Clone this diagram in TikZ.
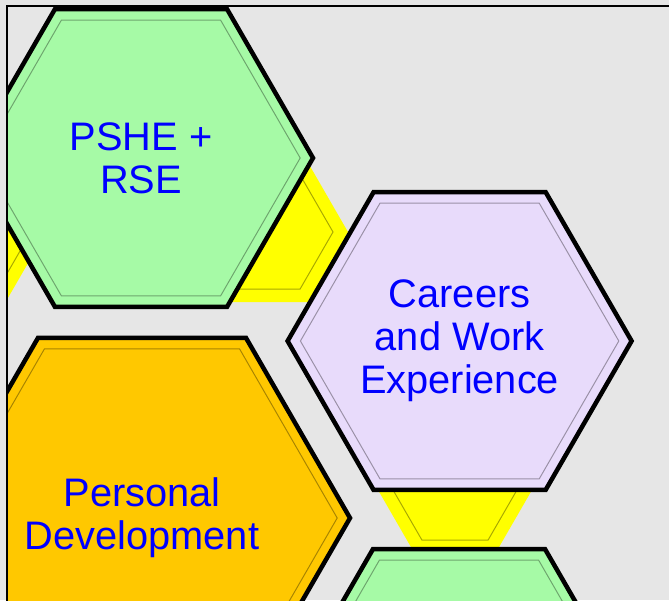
\documentclass[tikz,border=0pt]{standalone}
\usepackage{fontspec}
\setmainfont{Liberation Sans}
\usetikzlibrary{shapes.geometric}

\definecolor{bggray}{RGB}{230,230,230}
\definecolor{hexgreen}{RGB}{166,250,166}
\definecolor{hexlilac}{RGB}{232,219,251}
\definecolor{hexorange}{RGB}{255,200,0}
\definecolor{hexyellow}{RGB}{255,255,0}
\definecolor{textblue}{RGB}{0,0,255}

\begin{document}
\begin{tikzpicture}[
	hexa/.style={regular polygon, regular polygon sides=6, inner sep=0pt, outer sep=0pt},
	tile/.style={hexa, draw=black, line width=3.2pt, minimum size=8.6cm, text=textblue,
		align=center, font=\fontsize{28.3}{30.6}\selectfont},
	link/.style={hexa, fill=hexyellow, minimum size=4.05cm},
	bevel/.style={hexa, draw=#1!55!black, line width=0.7pt, draw opacity=0.75},
	]
	\useasboundingbox (0,0) rectangle (16.725,-15);
	\fill[bggray] (0,0) rectangle (16.725,-15);
	
	\begin{scope}
		\clip (0.175,-0.15) rectangle (17,-15.5);
		
		%yellow links
		\node (Link Left) at (-0.875,-5.8) [link]{};
		\node at (Link Left) [bevel=hexyellow, minimum size=3.3cm]{};
		\node (Link Top) at (6.675,-5.8) [link]{};
		\node at (Link Top) [bevel=hexyellow, minimum size=3.3cm]{};
		\node (Link Bottom) at (11.375,-12.075) [link]{};
		\node at (Link Bottom) [bevel=hexyellow, minimum size=3.3cm]{};
		
		%hexagon tiles
		\node (PSHE) at (3.525,-3.95) [tile, fill=hexgreen]{PSHE +\\RSE};
		\node at (PSHE) [bevel=hexgreen, minimum size=7.96cm]{};
		
		\node (Careers) at (11.49,-8.525) [tile, fill=hexlilac]{Careers\\and Work\\Experience};
		\node at (Careers) [bevel=hexlilac, minimum size=7.96cm]{};
		
		\node (Personal Development) at (3.55,-12.95) [tile, fill=hexorange, minimum size=10.4cm]{Personal\\Development};
		\node at (Personal Development) [bevel=hexorange, minimum size=9.76cm]{};
		
		\node (Lower Tile) at (11.475,-17.45) [tile, fill=hexgreen]{};
		\node at (Lower Tile) [bevel=hexgreen, minimum size=7.96cm]{};
	\end{scope}
	
	%frame
	\draw[line width=2pt] (0.175,-16) -- (0.175,-0.15) -- (17,-0.15);
\end{tikzpicture}
\end{document}
